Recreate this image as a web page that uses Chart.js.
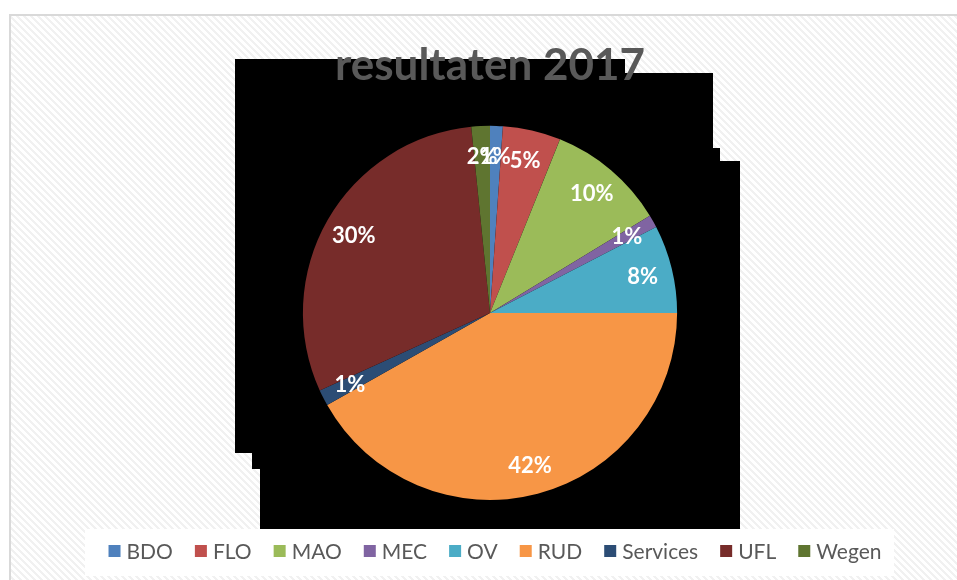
<!DOCTYPE html>
<html>
<head>
<meta charset="utf-8">
<script src="https://cdn.jsdelivr.net/npm/chart.js@4"></script>
<style>
    body { margin: 0; background: #fff; }
    canvas { display: block; }
</style>
</head>
<body>
<canvas id="myChart" width="957" height="580"></canvas>
<script>
// data (share of 2017 results, in %)
const categories = ["BDO", "FLO", "MAO", "MEC", "OV", "RUD", "Services", "UFL", "Wegen"];
const shares = [1.1, 5.0, 10.2, 1.1, 7.6, 41.8, 1.4, 30.2, 1.6];
const sliceColors = ["#4F81BD", "#C0504D", "#9BBB59", "#8064A2", "#4BACC6", "#F79646", "#2C4D75", "#772C2A", "#5F7530"];
const chartTitle = "resultaten 2017";

// light diagonal hatch like the office chart area
function makeHatch() {
    const c = document.createElement("canvas");
    c.width = 7; c.height = 7;
    const g = c.getContext("2d");
    g.fillStyle = "#fff";
    g.fillRect(0, 0, 7, 7);
    g.fillStyle = "#f1f1f1";
    for (let i = 0; i < 7; i++) {
        for (let t = 0; t < 3; t++) {
            g.fillRect((i + t) % 7, i, 1, 1);
        }
    }
    return g.createPattern(c, "repeat");
}

const backdrop = {
    id: "backdrop",
    beforeDraw(chart) {
        const ctx = chart.ctx;
        ctx.save();
        ctx.fillStyle = "#fff";
        ctx.fillRect(0, 0, chart.width, chart.height);
        ctx.fillStyle = makeHatch();
        ctx.fillRect(9, 14, chart.width - 9, chart.height - 14);
        ctx.strokeStyle = "#d9d9d9";
        ctx.lineWidth = 2;
        ctx.beginPath();
        ctx.moveTo(10, chart.height);
        ctx.lineTo(10, 15);
        ctx.lineTo(chart.width, 15);
        ctx.stroke();
        // legend panel
        ctx.fillStyle = "#fff";
        ctx.fillRect(85, 529, 809, 47);
        // the black block behind the pie
        const pts = [[235, 59], [625, 59], [625, 73], [713, 73], [713, 148], [720, 148], [720, 161], [740, 161],
            [740, 529], [260, 529], [260, 469], [252, 469], [252, 453], [235, 453]];
        ctx.fillStyle = "#000";
        ctx.beginPath();
        pts.forEach((p, i) => i ? ctx.lineTo(p[0], p[1]) : ctx.moveTo(p[0], p[1]));
        ctx.closePath();
        ctx.fill();
        ctx.restore();
    }
};

const pctLabels = {
    id: "pctLabels",
    afterDatasetsDraw(chart) {
        const ctx = chart.ctx;
        const meta = chart.getDatasetMeta(0);
        const total = shares.reduce((a, b) => a + b, 0);
        ctx.save();
        ctx.fillStyle = "#fff";
        ctx.font = "bold 22px Lato";
        ctx.textAlign = "center";
        ctx.textBaseline = "middle";
        meta.data.forEach((arc, i) => {
            const p = arc.getProps(["x", "y", "startAngle", "endAngle", "outerRadius"], true);
            const mid = (p.startAngle + p.endAngle) / 2;
            const r = p.outerRadius * 0.84;
            const txt = Math.round(shares[i] / total * 100) + "%";
            ctx.fillText(txt, p.x + Math.cos(mid) * r, p.y + Math.sin(mid) * r + 1);
        });
        ctx.restore();
    }
};

const bottomLegend = {
    id: "bottomLegend",
    afterDraw(chart) {
        const ctx = chart.ctx;
        ctx.save();
        ctx.font = "21px Lato";
        ctx.textBaseline = "middle";
        const box = 12, gap = 6, spacing = 22;
        let widths = categories.map(c => box + gap + ctx.measureText(c).width);
        let total = widths.reduce((a, b) => a + b, 0) + spacing * (categories.length - 1);
        let x = 495 - total / 2;
        const y = 551;
        categories.forEach((c, i) => {
            ctx.fillStyle = sliceColors[i];
            ctx.fillRect(x, y - box / 2, box, box);
            ctx.fillStyle = "#595959";
            ctx.fillText(c, x + box + gap, y + 1);
            x += widths[i] + spacing;
        });
        ctx.restore();
    }
};

new Chart("myChart", {
    type: "pie",
    data: {
        labels: categories,
        datasets: [{
            data: shares,
            backgroundColor: sliceColors,
            borderWidth: 0,
            hoverOffset: 0
        }]
    },
    options: {
        responsive: false,
        animation: false,
        layout: { padding: { left: 103, right: 80, top: 0, bottom: 80 } },
        plugins: {
            legend: { display: false },
            tooltip: { enabled: false },
            title: {
                display: true,
                text: chartTitle,
                color: "#595959",
                font: { family: "Lato", size: 44, weight: "bold" },
                padding: { top: 39, bottom: 34 }
            }
        }
    },
    plugins: [backdrop, pctLabels, bottomLegend]
});
</script>
</body>
</html>
